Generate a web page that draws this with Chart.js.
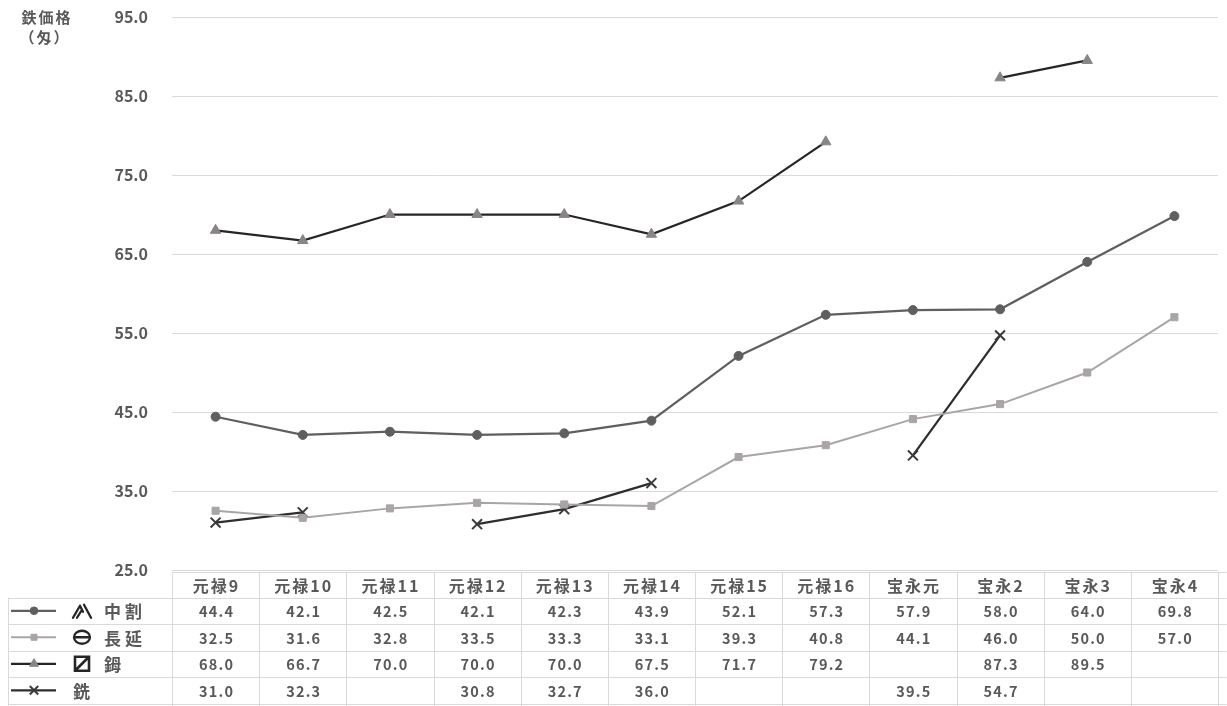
<!DOCTYPE html>
<html>
<head>
<meta charset="utf-8">
<script src="https://cdn.jsdelivr.net/npm/chart.js@4"></script>
<style>
html,body{margin:0;padding:0;background:#fff;}
#wrap{width:1227px;height:706px;position:relative;}
</style>
</head>
<body>
<div id="wrap"><canvas id="c" width="1227" height="706"></canvas></div>
<script>
const categories = ['元禄9','元禄10','元禄11','元禄12','元禄13','元禄14','元禄15','元禄16','宝永元','宝永2','宝永3','宝永4'];
const seriesNames = ['中割','長延','鉧','銑'];
const nakawari = [44.4,42.1,42.5,42.1,42.3,43.9,52.1,57.3,57.9,58.0,64.0,69.8];
const naganobe = [32.5,31.6,32.8,33.5,33.3,33.1,39.3,40.8,44.1,46.0,50.0,57.0];
const kera = [68.0,66.7,70.0,70.0,70.0,67.5,71.7,79.2,null,87.3,89.5,null];
const zuku = [31.0,32.3,null,30.8,32.7,36.0,null,null,39.5,54.7,null,null];
const yTicks = [25,35,45,55,65,75,85,95];
const yTitle = ['鉄価格','（匁）'];

const TXT = '#595959';
const GRID = '#d9d9d9';
const FONT = "'Noto Sans CJK JP','Noto Sans',sans-serif";

const datasets = [
  {label: seriesNames[0], data: nakawari, borderColor:'#5f5f5f', backgroundColor:'#5f5f5f', borderWidth:2.25, pointStyle:'circle', pointRadius:4.5, pointBorderWidth:1},
  {label: seriesNames[1], data: naganobe, borderColor:'#aaa5a5', backgroundColor:'#aaa5a5', borderWidth:2, pointStyle:'rect', pointRadius:5, pointBorderWidth:1},
  {label: seriesNames[2], data: kera, borderColor:'#262626', backgroundColor:'#8a8585', pointBorderColor:'#8a8585', borderWidth:2.25, pointStyle:'triangle', pointRadius:6, pointBorderWidth:1},
  {label: seriesNames[3], data: zuku, borderColor:'#2e2e2e', backgroundColor:'#2e2e2e', pointBorderColor:'#3a3a3a', borderWidth:2.25, pointStyle:'crossRot', pointRadius:7, pointBorderWidth:2}
];
datasets.forEach(d=>{d.spanGaps=false; d.tension=0; d.fill=false; d.pointHoverRadius=d.pointRadius;});

const tablePlugin = {
  id:'tablePlugin',
  afterDraw(chart){
    const ctx = chart.ctx;
    const xs = chart.scales.x;
    const ca = chart.chartArea;
    const n = categories.length;
    const band = (ca.right - ca.left)/n;
    const top = ca.bottom + 2;
    const headH = 25.5;
    const rowH = 26.5;
    const leftEdge = 8;
    const rightEdge = 1226.5;
    ctx.save();
    ctx.fillStyle = TXT;
    ctx.font = "bold 15px " + FONT;
    ctx.textAlign='center'; ctx.textBaseline='middle';
    if (ctx.letterSpacing!==undefined) ctx.letterSpacing='2px';
    ctx.fillText(yTitle[0], 47, 17);
    ctx.fillText(yTitle[1], 45, 37);
    ctx.strokeStyle = GRID; ctx.lineWidth = 1;
    ctx.beginPath();
    ctx.moveTo(ca.left, top+0.5); ctx.lineTo(rightEdge, top+0.5);
    for (let r=0;r<=4;r++){
      const y = Math.round(top+headH+r*rowH)+0.5;
      ctx.moveTo(leftEdge, y); ctx.lineTo(rightEdge, y);
    }
    for (let i=0;i<=n;i++){
      const x = Math.round(ca.left + i*band)+0.5;
      ctx.moveTo(x, top); ctx.lineTo(x, 706);
    }
    ctx.moveTo(leftEdge+0.5, top+headH); ctx.lineTo(leftEdge+0.5, 706);
    ctx.stroke();
    ctx.fillStyle = TXT;
    ctx.font = "bold 16px " + FONT;
    if (ctx.letterSpacing!==undefined) ctx.letterSpacing='2px';
    categories.forEach((c,i)=>{
      const x = xs.getPixelForValue(i);
      ctx.fillText(c, x+1, top+headH/2+1);
    });
    if (ctx.letterSpacing!==undefined) ctx.letterSpacing='1.2px';
    ctx.font = "bold 14.5px " + FONT;
    chart.data.datasets.forEach((ds,r)=>{
      const yc = top+headH+r*rowH+rowH/2+1;
      ds.data.forEach((v,i)=>{
        if (v===null||v===undefined) return;
        ctx.fillText(v.toFixed(1), xs.getPixelForValue(i)+1, yc);
      });
      const ly = top+headH+r*rowH+rowH/2;
      ctx.save();
      ctx.strokeStyle = ds.borderColor; ctx.lineWidth = ds.borderWidth;
      ctx.beginPath(); ctx.moveTo(11, ly); ctx.lineTo(56, ly); ctx.stroke();
      ctx.fillStyle = ds.backgroundColor; ctx.strokeStyle = ds.pointBorderColor || ds.borderColor; ctx.lineWidth = ds.pointBorderWidth;
      ctx.beginPath();
      Chart.helpers.drawPoint(ctx, {pointStyle: ds.pointStyle, radius: ds.pointRadius*0.85, borderWidth: ds.pointBorderWidth, rotation:0}, 34, ly);
      ctx.restore();
      ctx.save();
      ctx.fillStyle = TXT; ctx.textAlign='left';
      ctx.font = "bold 17px " + FONT;
      if (ctx.letterSpacing!==undefined) ctx.letterSpacing='4px';
      ctx.fillText(ds.label, r===3 ? 73 : 104, ly+1);
      ctx.restore();
      ctx.save();
      ctx.strokeStyle = '#262626'; ctx.lineWidth = 2.3; ctx.lineCap='round';
      if (r===0){
        ctx.beginPath();
        ctx.moveTo(73, ly+7); ctx.lineTo(80, ly-5);
        ctx.moveTo(77, ly+7); ctx.lineTo(82, ly-1);
        ctx.moveTo(80, ly-5); ctx.lineTo(83, ly+1);
        ctx.moveTo(84, ly-6); ctx.lineTo(91, ly+7);
        ctx.stroke();
      } else if (r===1){
        ctx.beginPath();
        ctx.ellipse(82, ly, 8, 6.5, 0, 0, Math.PI*2);
        ctx.moveTo(74, ly); ctx.lineTo(90, ly);
        ctx.stroke();
      } else if (r===2){
        ctx.lineWidth = 2.6;
        ctx.beginPath();
        ctx.rect(75, ly-7, 14, 14);
        ctx.moveTo(76, ly+6); ctx.lineTo(88, ly-6);
        ctx.stroke();
      }
      ctx.restore();
    });
    ctx.restore();
  }
};

new Chart(document.getElementById('c'), {
  type:'line',
  data:{labels: categories, datasets},
  options:{
    responsive:false,
    animation:false,
    layout:{padding:{top:17, bottom:136, right:1, left:0}},
    plugins:{legend:{display:false}, tooltip:{enabled:false}, title:{display:false}},
    scales:{
      x:{display:false, offset:true},
      y:{
        min:25, max:95,
        afterFit(s){ s.width = 172; s.paddingTop = 0; s.paddingBottom = 0; },
        afterBuildTicks(s){ s.ticks = yTicks.map(v=>({value:v})); },
        border:{display:false},
        grid:{color:GRID, lineWidth:1, drawTicks:false},
        ticks:{padding:24, color:TXT, font:{family:FONT, size:16, weight:'bold'}, callback:v=>Number(v).toFixed(1)}
      }
    }
  },
  plugins:[tablePlugin]
});
</script>
</body>
</html>
